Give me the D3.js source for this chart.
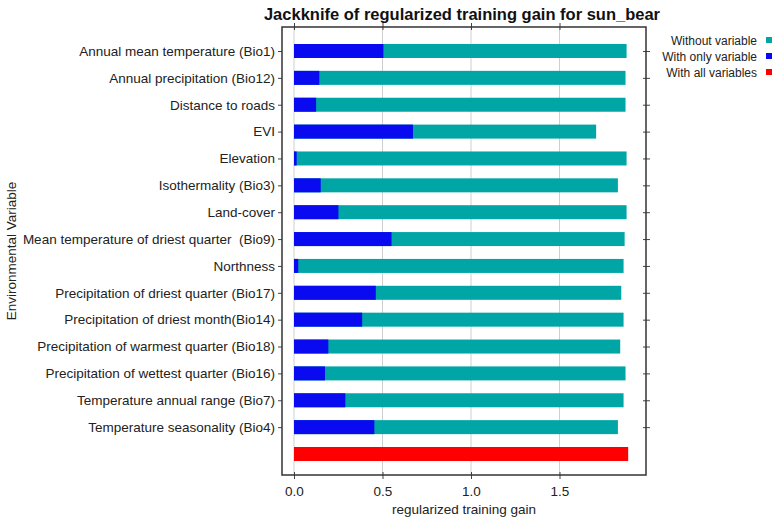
<!DOCTYPE html>
<html lang="en">
  <head>
    <meta charset="utf-8" />
    <title>Jackknife of regularized training gain for sun_bear</title>
    <script src="https://d3js.org/d3.v7.min.js"></script>
    <style>
      body { margin: 0; background: #fff; }
      svg { font-family: "Liberation Sans", Arial, sans-serif; }
    </style>
  </head>
  <body>
    <svg width="778" height="521"></svg>
  </body>
  <script>
    // Data
    const variables = [
      'Annual mean temperature (Bio1)',
      'Annual precipitation (Bio12)',
      'Distance to roads',
      'EVI',
      'Elevation',
      'Isothermality (Bio3)',
      'Land-cover',
      'Mean temperature of driest quarter  (Bio9)',
      'Northness',
      'Precipitation of driest quarter (Bio17)',
      'Precipitation of driest month(Bio14)',
      'Precipitation of warmest quarter (Bio18)',
      'Precipitation of wettest quarter (Bio16)',
      'Temperature annual range (Bio7)',
      'Temperature seasonality (Bio4)'
    ];
    const withoutVariable = [1.879, 1.873, 1.873, 1.707, 1.879, 1.830, 1.879, 1.868, 1.862, 1.849, 1.862, 1.843, 1.873, 1.862, 1.830];
    const withOnlyVariable = [0.505, 0.143, 0.125, 0.672, 0.015, 0.151, 0.251, 0.551, 0.024, 0.462, 0.385, 0.194, 0.175, 0.290, 0.454];
    const withAllVariables = 1.888;
    const xTicks = [0, 0.5, 1.0, 1.5];
    const legendLabels = ['Without variable', 'With only variable', 'With all variables'];

    const colors = { without: '#00a6a6', only: '#0a0af0', all: '#ff0000' };
    const fontSize = 13.5;

    const svg = d3.select('svg');
    const frame = { left: 282, right: 646, top: 27, bottom: 475 };

    // x scale: 0 at 294, 0.5 step of ~88px
    const xScale = d3.scaleLinear()
          .domain([0, 0.5])
          .range([294, 382.5]);

    // rows: 15 variables plus the "all variables" row with no label
    const rows = variables.concat(['__all__']);
    const yScale = d3.scalePoint()
          .domain(rows)
          .range([51, 454]);
    const barH = 14;

    // vertical grid lines
    svg.append('g')
      .selectAll('line')
      .data(xTicks)
      .join('line')
        .attr('x1', d => xScale(d)).attr('x2', d => xScale(d))
        .attr('y1', frame.top).attr('y2', frame.bottom)
        .attr('stroke', '#cfcfcf')
        .attr('stroke-width', 1);

    // bars
    const bars = svg.append('g');
    bars.selectAll('.without')
      .data(variables)
      .join('rect')
        .attr('class', 'without')
        .attr('x', xScale(0))
        .attr('y', d => yScale(d) - barH / 2)
        .attr('width', (d, i) => xScale(withoutVariable[i]) - xScale(0))
        .attr('height', barH)
        .attr('fill', colors.without);
    bars.selectAll('.only')
      .data(variables)
      .join('rect')
        .attr('class', 'only')
        .attr('x', xScale(0))
        .attr('y', d => yScale(d) - barH / 2)
        .attr('width', (d, i) => xScale(withOnlyVariable[i]) - xScale(0))
        .attr('height', barH)
        .attr('fill', colors.only);
    bars.append('rect')
      .attr('x', xScale(0))
      .attr('y', yScale('__all__') - barH / 2)
      .attr('width', xScale(withAllVariables) - xScale(0))
      .attr('height', barH)
      .attr('fill', colors.all);

    // left axis with variable names
    const leftAxis = svg.append('g')
      .attr('transform', `translate(${frame.left}, 0)`)
      .call(d3.axisLeft(yScale)
        .tickValues(variables)
        .tickSize(4)
        .tickPadding(3));
    leftAxis.select('.domain').remove();
    leftAxis.selectAll('text')
      .attr('font-size', fontSize)
      .attr('fill', '#222')
      .style('white-space', 'pre')
      .attr('font-family', '"Liberation Sans", Arial, sans-serif');
    leftAxis.selectAll('line').attr('stroke', '#444');

    // right edge ticks
    const rightAxis = svg.append('g')
      .attr('transform', `translate(${frame.right}, 0)`)
      .call(d3.axisRight(yScale).tickValues(variables).tickSize(4).tickFormat(''));
    rightAxis.select('.domain').remove();
    rightAxis.selectAll('line').attr('stroke', '#444').attr('x1', -3);

    // bottom axis
    const bottomAxis = svg.append('g')
      .attr('transform', `translate(0, ${frame.bottom})`)
      .call(d3.axisBottom(xScale)
        .tickValues(xTicks)
        .tickFormat(d3.format('.1f'))
        .tickSize(4)
        .tickPadding(7));
    bottomAxis.select('.domain').remove();
    bottomAxis.selectAll('line').attr('stroke', '#444').attr('y1', -3);
    bottomAxis.selectAll('text')
      .attr('font-size', fontSize)
      .attr('fill', '#222')
      .attr('font-family', '"Liberation Sans", Arial, sans-serif');

    // top edge ticks
    const topAxis = svg.append('g')
      .attr('transform', `translate(0, ${frame.top})`)
      .call(d3.axisTop(xScale).tickValues(xTicks).tickSize(4).tickFormat(''));
    topAxis.select('.domain').remove();
    topAxis.selectAll('line').attr('stroke', '#444').attr('y1', 3);

    // frame
    svg.append('rect')
      .attr('x', frame.left)
      .attr('y', frame.top)
      .attr('width', frame.right - frame.left)
      .attr('height', frame.bottom - frame.top)
      .attr('fill', 'none')
      .attr('stroke', '#333')
      .attr('stroke-width', 1.5);

    // title
    svg.append('text')
      .attr('x', (frame.left + frame.right) / 2 - 2)
      .attr('y', 20)
      .attr('text-anchor', 'middle')
      .attr('font-size', 16.5)
      .attr('font-weight', 'bold')
      .attr('fill', '#111')
      .text('Jackknife of regularized training gain for sun_bear');

    // axis titles
    svg.append('text')
      .attr('x', (frame.left + frame.right) / 2)
      .attr('y', 514)
      .attr('text-anchor', 'middle')
      .attr('font-size', fontSize)
      .attr('fill', '#222')
      .text('regularized training gain');

    svg.append('text')
      .attr('transform', `translate(16, ${(frame.top + frame.bottom) / 2}) rotate(-90)`)
      .attr('text-anchor', 'middle')
      .attr('font-size', fontSize)
      .attr('fill', '#222')
      .text('Environmental Variable');

    // legend
    const legendColors = [colors.without, colors.only, colors.all];
    const legend = svg.append('g')
      .selectAll('g')
      .data(legendLabels)
      .join('g')
        .attr('transform', (d, i) => `translate(0, ${41 + i * 16})`);
    legend.append('text')
      .attr('x', 757)
      .attr('y', 4)
      .attr('text-anchor', 'end')
      .attr('font-size', 12)
      .attr('fill', '#222')
      .text(d => d);
    legend.append('rect')
      .attr('x', 766)
      .attr('y', -4)
      .attr('width', 6)
      .attr('height', 6)
      .attr('fill', (d, i) => legendColors[i]);
  </script>
</html>
